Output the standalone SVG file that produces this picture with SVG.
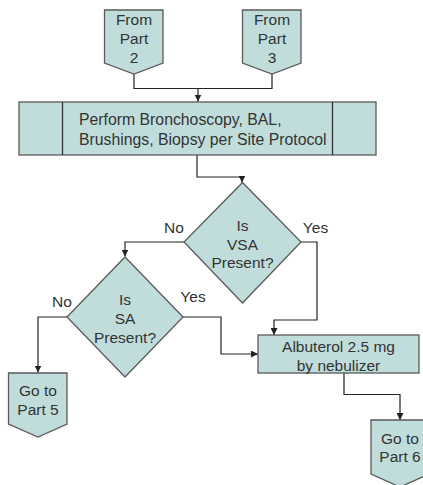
<svg xmlns="http://www.w3.org/2000/svg" width="423" height="485" viewBox="0 0 423 485">
<style>
.shape{fill:#c0dddc;stroke:#5a5a5a;stroke-width:1.3}
.t{font-family:"Liberation Sans",Arial,sans-serif;font-size:15.5px;fill:#333;text-anchor:middle}
.lbl{font-family:"Liberation Sans",Arial,sans-serif;font-size:15.5px;fill:#333;text-anchor:middle}
.c{fill:none;stroke:#222;stroke-width:1.2}
</style>
<defs>
<marker id="arr" viewBox="0 0 10 10" refX="10" refY="5" markerWidth="7" markerHeight="7" markerUnits="userSpaceOnUse" orient="auto">
<path d="M0,0 L10,5 L0,10 z" fill="#222"/>
</marker>
</defs>
<rect width="423" height="485" fill="#fff"/>
<g id="connectors">
<path class="c" d="M134,74 V88.5 H272 V74"/>
<path class="c" d="M198,88.5 V101.5" marker-end="url(#arr)"/>
<path class="c" d="M197,155 V177 H242 V182.5" marker-end="url(#arr)"/>
<path class="c" d="M184,242 H125 V256.5" marker-end="url(#arr)"/>
<path class="c" d="M301,242 H317 V320 H274 V335" marker-end="url(#arr)"/>
<path class="c" d="M67,317 H38 V372.5" marker-end="url(#arr)"/>
<path class="c" d="M183,317 H221 V354 H258" marker-end="url(#arr)"/>
<path class="c" d="M344,373 V394.5 H400 V420" marker-end="url(#arr)"/>
</g>
<g id="from2">
<path class="shape" d="M104.5,10 H163 V63 L134,74 L104.5,63 Z"/>
<text class="t" x="134" y="25">From</text>
<text class="t" x="134" y="44">Part</text>
<text class="t" x="134" y="63">2</text>
</g>
<g id="from3">
<path class="shape" d="M242.5,10 H301 V63 L272,74 L242.5,63 Z"/>
<text class="t" x="272" y="25">From</text>
<text class="t" x="272" y="44">Part</text>
<text class="t" x="272" y="63">3</text>
</g>
<g id="bronch">
<rect class="shape" x="19" y="102" width="357" height="53"/>
<line x1="62.5" y1="102" x2="62.5" y2="155" stroke="#333" stroke-width="1.3"/>
<line x1="332.5" y1="102" x2="332.5" y2="155" stroke="#333" stroke-width="1.3"/>
<text class="t" x="79" y="125" style="font-size:15.8px;text-anchor:start">Perform Bronchoscopy, BAL,</text>
<text class="t" x="79" y="145" style="font-size:15.8px;text-anchor:start">Brushings, Biopsy per Site Protocol</text>
</g>
<g id="vsa">
<path class="shape" d="M242.5,182.5 L301,242 L242.5,303 L184,242 Z"/>
<text class="t" x="242.5" y="230.5">Is</text>
<text class="t" x="242.5" y="249.5">VSA</text>
<text class="t" x="242.5" y="268">Present?</text>
</g>
<text class="lbl" x="174" y="232.5">No</text>
<text class="lbl" x="315.5" y="232.5">Yes</text>
<g id="sa">
<path class="shape" d="M125,257 L183,317 L125,377 L67,317 Z"/>
<text class="t" x="125" y="305">Is</text>
<text class="t" x="125" y="324">SA</text>
<text class="t" x="125" y="343">Present?</text>
</g>
<text class="lbl" x="62" y="307">No</text>
<text class="lbl" x="193" y="302">Yes</text>
<g id="albuterol">
<rect class="shape" x="258" y="335" width="161" height="38"/>
<text class="t" x="338.5" y="352">Albuterol 2.5 mg</text>
<text class="t" x="338.5" y="370.5">by nebulizer</text>
</g>
<g id="part5">
<path class="shape" d="M8.5,373 H67 V424 L38,437 L8.5,424 Z"/>
<text class="t" x="38" y="396">Go to</text>
<text class="t" x="38" y="415">Part 5</text>
</g>
<g id="part6">
<path class="shape" d="M371,420 H429 V474 L400,487 L371,474 Z"/>
<text class="t" x="400" y="443.5">Go to</text>
<text class="t" x="400" y="462">Part 6</text>
</g>
</svg>
